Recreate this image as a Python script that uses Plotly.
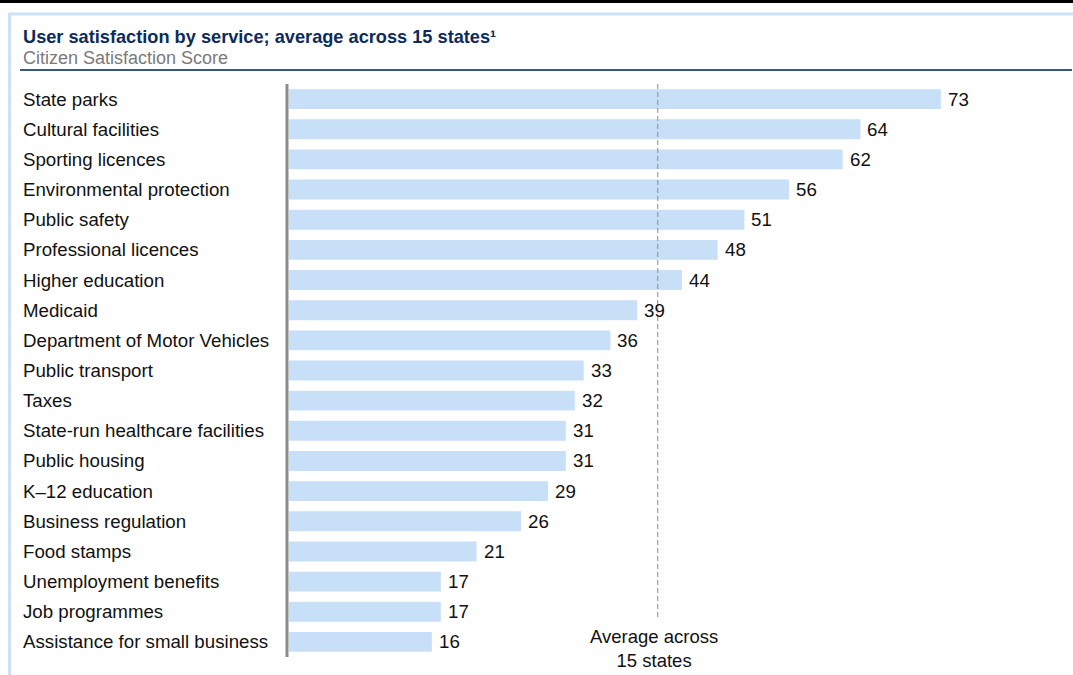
import plotly.graph_objects as go

services = [
    "State parks", "Cultural facilities", "Sporting licences", "Environmental protection",
    "Public safety", "Professional licences", "Higher education", "Medicaid",
    "Department of Motor Vehicles", "Public transport", "Taxes",
    "State-run healthcare facilities", "Public housing", "K\u201312 education",
    "Business regulation", "Food stamps", "Unemployment benefits", "Job programmes",
    "Assistance for small business",
]
scores = [73, 64, 62, 56, 51, 48, 44, 39, 36, 33, 32, 31, 31, 29, 26, 21, 17, 17, 16]
average_score = 41.3

W, H = 1073, 675
L, R, T, B = 289, 25, 84, 18
PW, PH = W - L - R, H - T - B
FONT = "Liberation Sans, Arial, sans-serif"
FS = 18.7


def px(x):
    return (x - L) / PW


def py(y):
    return (H - B - y) / PH


fig = go.Figure()
fig.add_trace(go.Bar(
    x=scores, y=services, orientation="h",
    marker=dict(color="#c8dff8", line=dict(width=0)),
    hoverinfo="x+y",
))

annotations = []
for s, v in zip(services, scores):
    annotations.append(dict(x=px(21), xref="paper", y=s, yref="y", text=s,
                            xanchor="left", yanchor="middle", showarrow=False,
                            font=dict(family=FONT, size=FS, color="#111111")))
    annotations.append(dict(x=v, xref="x", y=s, yref="y", text=str(v),
                            xanchor="left", yanchor="middle", showarrow=False, xshift=5,
                            font=dict(family=FONT, size=FS, color="#111111")))

annotations.append(dict(x=px(21), xref="paper", y=py(37), yref="paper",
                        text="<b>User satisfaction by service; average across 15 states\u00b9</b>",
                        xanchor="left", yanchor="middle", showarrow=False,
                        font=dict(family=FONT, size=18.2, color="#0d2b5c")))
annotations.append(dict(x=px(21), xref="paper", y=py(58), yref="paper",
                        text="Citizen Satisfaction Score",
                        xanchor="left", yanchor="middle", showarrow=False,
                        font=dict(family=FONT, size=18, color="#7a7a7a")))
annotations.append(dict(x=average_score, xref="x", y=py(648), yref="paper",
                        text="Average across<br>15 states",
                        xanchor="center", yanchor="middle", showarrow=False, xshift=-4,
                        font=dict(family=FONT, size=18.5, color="#111111")))

shapes = [
    # top black band
    dict(type="rect", xref="paper", yref="paper", x0=px(0), x1=px(W), y0=py(0), y1=py(3),
         fillcolor="#000000", line=dict(width=0)),
    # light blue frame
    dict(type="line", xref="paper", yref="paper", x0=px(8), x1=px(W), y0=py(14), y1=py(14),
         line=dict(color="#cde2f8", width=3)),
    dict(type="line", xref="paper", yref="paper", x0=px(9.5), x1=px(9.5), y0=py(13), y1=py(H),
         line=dict(color="#cde2f8", width=3)),
    # navy separator
    dict(type="line", xref="paper", yref="paper", x0=px(20), x1=px(1072), y0=py(70), y1=py(70),
         line=dict(color="#3b5785", width=2)),
    # vertical axis line
    dict(type="line", xref="paper", yref="paper", x0=px(287), x1=px(287), y0=py(84), y1=py(657),
         line=dict(color="#8a8a8a", width=3)),
    # average dashed line
    dict(type="line", xref="x", yref="paper", x0=average_score, x1=average_score,
         y0=py(84), y1=py(617), line=dict(color="#8a8a8a", width=1, dash="5px,3px")),
]

fig.update_layout(
    width=W, height=H,
    margin=dict(l=L, r=R, t=T, b=B),
    paper_bgcolor="white", plot_bgcolor="white",
    showlegend=False,
    bargap=0.34,
    xaxis=dict(range=[0, 85], visible=False, fixedrange=True),
    yaxis=dict(categoryorder="array", categoryarray=services, range=[18.5, -0.5],
               showticklabels=False, showgrid=False, zeroline=False, showline=False,
               fixedrange=True),
    annotations=annotations,
    shapes=shapes,
    font=dict(family=FONT),
)

fig.write_html("out.html")
